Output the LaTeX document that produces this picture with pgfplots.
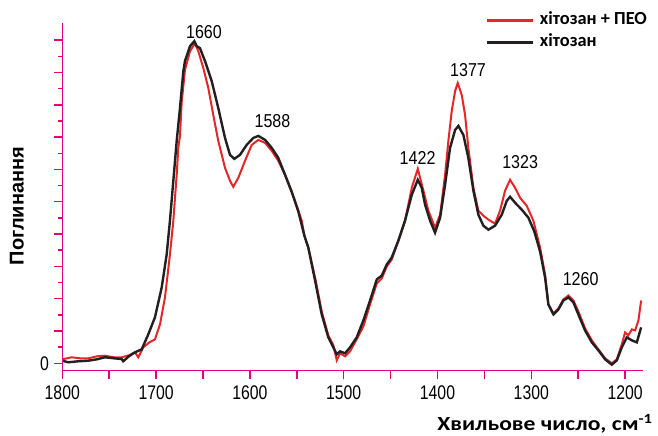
\documentclass[border=0pt]{standalone}
\usepackage{pgfplots}
\pgfplotsset{compat=1.18}
\usepackage{fontspec}
\setmainfont{Liberation Sans}
\newfontfamily\tickfont[FakeStretch=0.8]{Liberation Sans}
\newfontfamily\peakfont[FakeStretch=0.86]{Liberation Sans}
\newfontfamily\calib{Carlito}
\newfontfamily\calibx[FakeStretch=1.18]{Carlito}
\definecolor{axmag}{RGB}{228,0,124}
\definecolor{spred}{RGB}{228,38,40}
\definecolor{spblack}{RGB}{35,31,32}
\begin{document}
\begin{tikzpicture}
\begin{axis}[
 at={(0,0)}, anchor=south west,
 scale only axis, width=435.5pt, height=260.8pt,
 x dir=reverse, xmin=1181, xmax=1800, ymin=-7.4, ymax=341.3,
 clip=false,
 axis x line*=bottom, axis y line*=left,
 axis line style={draw=none},
 every tick/.style={draw=axmag, line width=1.1pt},
 tick align=outside, major tick length=6.5pt, minor tick length=3pt,
 xtick={1200,1250,1300,1350,1400,1450,1500,1550,1600,1650,1700,1750,1800},
 xticklabels={1200,{},1300,{},1400,{},1500,{},1600,{},1700,{},1800},
 ytick={0,32.4,64.8,97.2,129.6,162,194.4,226.8,259.2,291.6,324},
 yticklabels={0,{},{},{},{},{},{},{},{},{},{}},
 minor ytick={16.2,48.6,81,113.4,145.8,178.2,210.6,243,275.4,307.8},
 /pgf/number format/assume math mode=true,
 ticklabel style={font=\tickfont\fontsize{14.8}{16}\selectfont, text=black},
 xticklabel style={yshift=-1.5pt},
 xlabel={Хвильове число, см\textsuperscript{-1}},
 xlabel style={at={(axis description cs:1,0)}, anchor=base east, inner sep=0pt, xshift=7.5pt, yshift=-45.2pt, font=\calibx\bfseries\fontsize{15}{17}\selectfont},
 ylabel={Поглинання},
 ylabel style={at={([xshift=-34pt]axis description cs:0,0.4736)}, anchor=center, font=\bfseries\fontsize{15}{17}\selectfont},
 legend style={at={(axis description cs:0.7286,1.0354)}, anchor=north west, draw=none, fill=none, inner sep=0pt, row sep=3pt, column sep=3pt,
   nodes={inner sep=1pt, text height=9pt, text depth=3pt, font=\calib\bfseries\fontsize{13.8}{15}\selectfont}},
 legend cell align=left,
 legend image code/.code={\draw[#1, line width=2.2pt] (0pt,0pt) -- (34.5pt,0pt);},
]
\addplot[spred, line width=1.5pt] coordinates {
(1800,4) (1790,6) (1781,5) (1772,5) (1763,7) (1754.5,7.6) (1745,6) (1736.7,6) (1729,8) (1722.5,11) (1719,6) (1713.6,16) (1707,21) (1701.2,24) (1695.8,39) (1690.5,66) (1685.2,109) (1681.6,143) (1678,189) (1676.3,216) (1674.5,228) (1672.7,262) (1670.9,278) (1669.2,294) (1663.8,313) (1658.5,321) (1655,313) (1649.6,296) (1644.3,276) (1639,249) (1633.7,223) (1626.5,196) (1621.2,183) (1617.7,177) (1612.3,186) (1605.2,203) (1598,219) (1591,224) (1583.8,221) (1576.7,213) (1569.7,203) (1562.5,189) (1557.2,176) (1551.9,163) (1544.7,143) (1541.9,128) (1537.7,116) (1530.5,86) (1523.4,52) (1516.4,28) (1511,18) (1507.4,3) (1503.9,10) (1498.5,7) (1493.2,12) (1486.1,24) (1479,37) (1471.9,59) (1464.7,80) (1459.4,85) (1454.1,97) (1448.8,104) (1441.7,123) (1434.6,143) (1427.4,176) (1421,195) (1415,173) (1409.7,153) (1402.6,136) (1397.2,149) (1391.9,189) (1388.4,223) (1384.8,253) (1381.2,273) (1378.4,281) (1374.1,269) (1370.6,249) (1367.1,216) (1361.7,176) (1356.4,153) (1351.1,148) (1345.7,144) (1338.6,140) (1333.3,153) (1328,173) (1322.6,184) (1317.3,176) (1312,166) (1304.9,158) (1297.8,143) (1290.6,116) (1285.3,89) (1281.8,59) (1276.4,50) (1271.1,55) (1265.8,64) (1260.4,68) (1255.1,63) (1249.8,52) (1242.7,35) (1235.5,23) (1228.5,14) (1221.3,5) (1214.2,0) (1208.8,4) (1203.5,19) (1200,31) (1196.5,28) (1192.8,34) (1189.3,33) (1185.8,43) (1182.9,63)
};
\addlegendentry{хітозан + ПЕО}
\addplot[spblack, line width=1.8pt] coordinates {
(1800,2.6) (1793.6,1) (1783,2) (1772.3,2.6) (1763,4) (1754.5,6) (1745,5) (1736.7,4.3) (1735,2) (1729,7) (1722.5,11) (1715.3,14) (1708.3,29) (1701.2,46) (1694,76) (1688.7,109) (1685.2,143) (1681.6,183) (1678,223) (1674.5,256) (1670.9,293) (1669.2,303) (1663.8,318) (1659.2,323) (1656.7,318) (1653.2,316) (1647.8,303) (1640.7,283) (1633.7,256) (1626.5,226) (1621.2,209) (1616.6,205) (1610.5,209) (1603.4,219) (1596.3,226) (1591,228) (1583.8,224) (1576.7,216) (1569.7,206) (1562.5,189) (1555.4,172) (1548.3,152) (1541.9,128) (1537.7,116) (1530.5,83) (1523.4,49) (1516.4,26) (1511,16) (1507.4,9) (1503.9,12) (1498.5,10) (1493.2,16) (1486.1,26) (1479,43) (1471.9,63) (1464.7,84) (1459.4,88) (1454.1,99) (1448.8,106) (1441.7,123) (1434.6,143) (1427.4,169) (1421,184) (1416.8,176) (1413.2,159) (1407.9,143) (1402.6,131) (1397.2,146) (1391.9,179) (1386.6,216) (1381.2,234) (1377.7,238) (1372.4,229) (1367.1,206) (1361.7,173) (1356.4,149) (1351.1,138) (1345.7,134) (1338.6,138) (1331.5,149) (1326.1,163) (1322.6,167) (1317.3,161) (1310.1,154) (1303.1,146) (1296.7,132) (1290.6,112) (1285.3,86) (1281.8,59) (1276.4,49) (1271.1,54) (1265.8,63) (1260.4,66) (1255.1,61) (1249.8,49) (1242.7,33) (1235.5,21) (1228.5,13) (1221.3,4) (1214.2,-1.4) (1208.8,3) (1203.5,16) (1198.2,26) (1192.8,23) (1187.5,21) (1182.9,36)
};
\addlegendentry{хітозан}
\draw[axmag, line width=1.1pt] (axis description cs:0,1) -- (axis description cs:0,0) -- (axis description cs:1,0);
\begin{scope}[every node/.style={font=\peakfont\fontsize{14}{16}\selectfont, inner sep=0pt}]
\node at (axis cs:1648.9,331.8) {1660};
\node at (axis cs:1575.9,243.3) {1588};
\node at (axis cs:1421.2,206.3) {1422};
\node at (axis cs:1367.4,294.3) {1377};
\node at (axis cs:1311.9,201.3) {1323};
\node at (axis cs:1247.4,84.3) {1260};
\end{scope}
\end{axis}
\pgfresetboundingbox
\path[use as bounding box] (-46.7pt,-49pt) rectangle (446.8pt,278pt);
\end{tikzpicture}
\end{document}
